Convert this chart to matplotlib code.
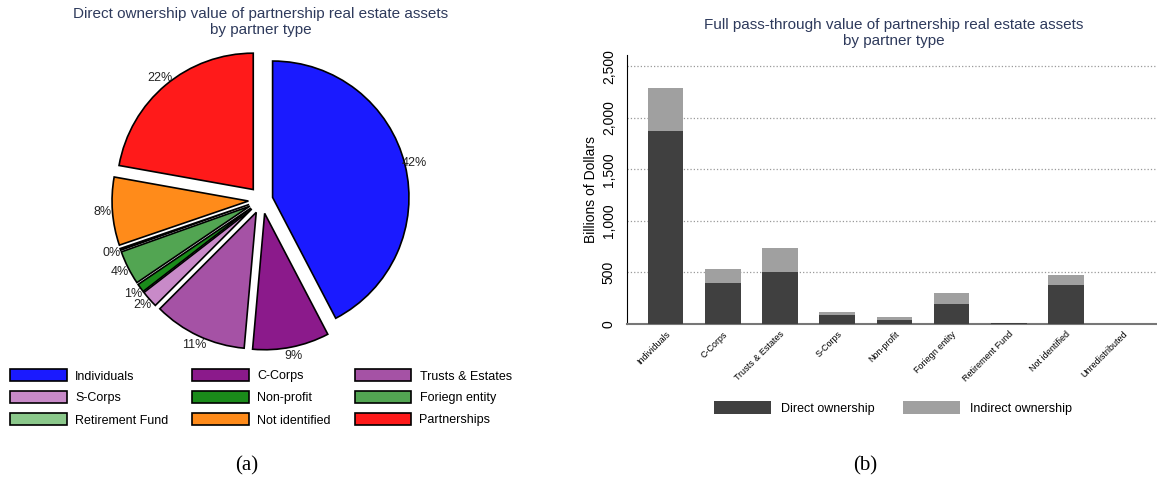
import matplotlib
matplotlib.use("Agg")
import matplotlib.pyplot as plt
from matplotlib.patches import Patch
from matplotlib.ticker import FuncFormatter

plt.rcParams['font.family'] = ['Liberation Sans', 'DejaVu Sans']

# ---- data ----
pie_labels = ["Individuals", "C-Corps", "Trusts & Estates", "S-Corps", "Non-profit",
              "Foriegn entity", "Retirement Fund", "Not identified", "Partnerships"]
pie_shares = [42, 9, 11, 2, 1, 4, 0.2, 8, 22]
pie_colors = ["#1a1aff", "#8b1a8b", "#a552a5", "#c88ac8", "#1a8b1a",
              "#52a552", "#8bc88b", "#ff8b1a", "#ff1a1a"]

bar_categories = ["Individuals", "C-Corps", "Trusts & Estates", "S-Corps", "Non-profit",
                  "Foriegn entity", "Retirement Fund", "Not identified", "Unredistributed"]
direct_vals = [1872, 395, 502, 84, 36, 191, 5, 376, 2]
indirect_vals = [414, 136, 233, 29, 29, 107, 3, 97, 1]
yticks = [0, 500, 1000, 1500, 2000, 2500]

title_color = "#2e3a5c"

fig = plt.figure(figsize=(11.57, 4.87), dpi=100)

# ---- pie ----
W, H = 1157, 487
axp = fig.add_axes([112 / W, 1 - 350 / H, 300 / W, 300 / H])
explode = [0.08, 0.1, 0.1, 0.1, 0.1, 0.1, 0.1, 0.1, 0.1]
wedges, texts, autotexts = axp.pie(
    pie_shares, colors=pie_colors, explode=explode, startangle=90, counterclock=False,
    autopct='%1.0f%%', pctdistance=1.07,
    wedgeprops=dict(edgecolor='black', linewidth=1.2),
    textprops=dict(fontsize=9, color='#222222'))
axp.set_xlim(-1.1, 1.1)
axp.set_ylim(-1.1, 1.1)
axp.set_aspect('equal', adjustable='datalim')

fig.text(261 / W, 1 - 22 / H, "Direct ownership value of partnership real estate assets\nby partner type",
         ha='center', va='center', fontsize=11, color=title_color, linespacing=1.15)

order = [0, 3, 6, 1, 4, 7, 2, 5, 8]
handles = [Patch(facecolor=pie_colors[i], edgecolor='black', linewidth=1.2, label=pie_labels[i]) for i in order]
fig.legend(handles=handles, ncol=3, loc='upper left', bbox_to_anchor=(-1 / W, 1 - 358 / H),
           frameon=False, fontsize=9, handlelength=4.5, handleheight=1.1,
           handletextpad=0.7, columnspacing=1.9, labelspacing=0.7)

# ---- bars ----
axb = fig.add_axes([627 / W, 1 - 324 / H, (W - 627) / W, (324 - 55) / H])
x = list(range(len(bar_categories)))
axb.bar(x, direct_vals, width=0.62, color='#404040', label='Direct ownership', zorder=3)
axb.bar(x, indirect_vals, width=0.62, bottom=direct_vals, color='#a0a0a0',
        label='Indirect ownership', zorder=3)
axb.set_xlim(-0.675, 8.59)
axb.set_ylim(0, 2610)
axb.set_yticks(yticks)
axb.yaxis.set_major_formatter(FuncFormatter(lambda v, p: f"{int(v):,}"))
axb.tick_params(axis='y', labelsize=10, rotation=90, length=0, pad=8)
for lab in axb.get_yticklabels():
    lab.set_va('center')
axb.set_xticks(x)
axb.set_xticklabels(bar_categories, rotation=45, ha='right', rotation_mode='anchor', fontsize=6.5)
axb.tick_params(axis='x', length=0, pad=4)
axb.grid(axis='y', linestyle=':', color='#999999', linewidth=0.9, zorder=0)
for s in ['top', 'right']:
    axb.spines[s].set_visible(False)
axb.spines['bottom'].set_color('#777777')
axb.spines['bottom'].set_linewidth(1.5)
axb.set_ylabel("Billions of Dollars", fontsize=10, labelpad=3)
fig.text(894 / W, 1 - 33 / H, "Full pass-through value of partnership real estate assets\nby partner type",
         ha='center', va='center', fontsize=11, color=title_color, linespacing=1.15)
axb.legend(loc='center', bbox_to_anchor=(893 / W, 1 - 408 / H), bbox_transform=fig.transFigure,
           ncol=2, frameon=False, fontsize=9, handlelength=4.6, handleheight=1.2,
           handletextpad=0.8, columnspacing=2.2)

# ---- captions ----
fig.text(247 / W, 1 - 466 / H, "(a)", ha='center', va='center', fontsize=15, family='Liberation Serif')
fig.text(865 / W, 1 - 466 / H, "(b)", ha='center', va='center', fontsize=15, family='Liberation Serif')

fig.savefig("out.png", dpi=100)
